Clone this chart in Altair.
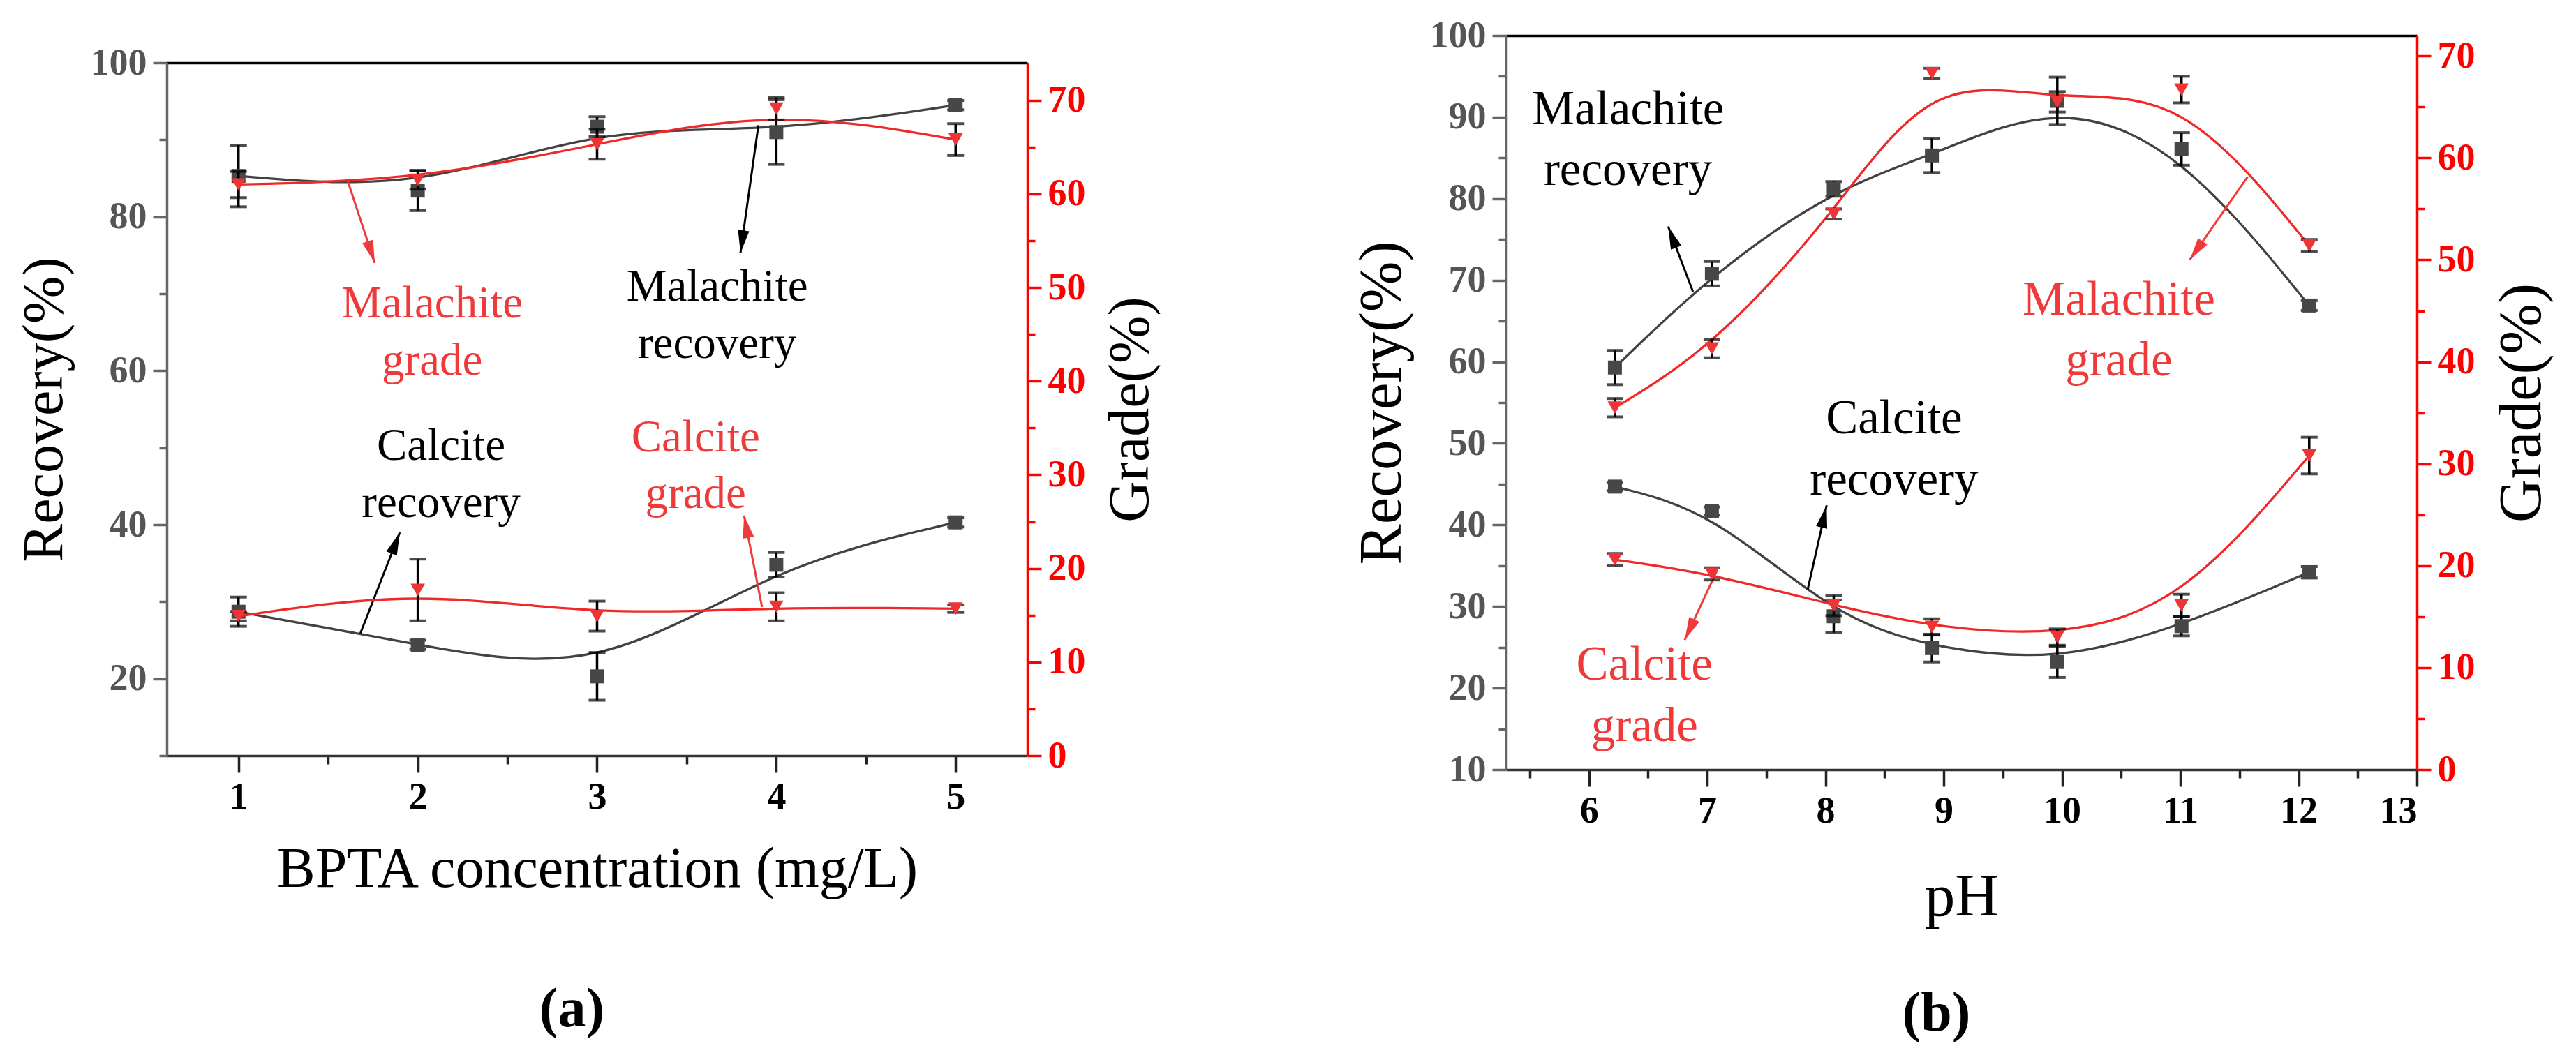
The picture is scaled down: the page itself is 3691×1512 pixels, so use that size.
import math
import pandas as pd
import altair as alt

FONT = "Liberation Serif"
REC_COLOR = "#424242"
GRADE_COLOR = "#f02828"
RED_TEXT = "#ee3a3a"

# ---------------- panel (a): BPTA concentration ----------------
conc = [1, 2, 3, 4, 5]
a_mal_rec = [85.3, 83.4, 91.7, 91.0, 94.5]
a_mal_rec_err = [4.0, 2.6, 1.3, 4.2, 0.6]
a_cal_rec = [28.7, 24.4, 20.3, 34.8, 40.3]
a_cal_rec_err = [1.9, 0.6, 3.1, 1.6, 0.6]
a_mal_grade = [61.0, 61.5, 65.3, 69.1, 65.8]
a_mal_grade_err = [1.4, 1.0, 1.6, 1.2, 1.7]
a_cal_grade = [14.9, 17.7, 14.9, 15.9, 15.7]
a_cal_grade_err = [0.5, 3.3, 1.6, 1.5, 0.4]

a_ann_text = ["Malachite", "grade", "Malachite", "recovery", "Calcite", "recovery", "Calcite", "grade"]
a_ann_kind = ["grade", "grade", "recovery", "recovery", "recovery", "recovery", "grade", "grade"]
a_ann_x = [2.08, 2.08, 3.67, 3.67, 2.13, 2.13, 3.55, 3.55]
a_ann_y = [68.7, 61.3, 70.9, 63.5, 50.2, 42.8, 51.3, 44.0]

a_arr_kind = ["grade", "recovery", "recovery", "grade"]
a_arr_x1 = [1.61, 3.90, 1.68, 3.92]
a_arr_y1 = [84.6, 91.9, 25.9, 29.3]
a_arr_x2 = [1.76, 3.80, 1.90, 3.82]
a_arr_y2 = [74.0, 75.3, 39.0, 41.2]

# ---------------- panel (b): pH ----------------
ph = [6.22, 7.04, 8.07, 8.90, 9.96, 11.01, 12.09]
b_mal_rec = [59.3, 70.8, 81.2, 85.3, 92.0, 86.1, 66.9]
b_mal_rec_err = [2.1, 1.5, 0.9, 2.1, 2.9, 2.0, 0.6]
b_cal_rec = [44.7, 41.7, 28.8, 24.9, 23.2, 27.6, 34.2]
b_cal_rec_err = [0.5, 0.5, 2.0, 1.7, 1.9, 1.2, 0.7]
b_mal_grade = [35.5, 41.3, 54.5, 68.3, 65.5, 66.7, 51.4]
b_mal_grade_err = [0.9, 0.9, 0.5, 0.5, 1.0, 1.3, 0.6]
b_cal_grade = [20.6, 19.2, 16.1, 14.0, 13.0, 16.1, 30.8]
b_cal_grade_err = [0.6, 0.6, 1.0, 0.8, 0.8, 1.1, 1.8]

b_ann_text = ["Malachite", "recovery", "Malachite", "grade", "Calcite", "recovery", "Calcite", "grade"]
b_ann_kind = ["recovery", "recovery", "grade", "grade", "recovery", "recovery", "grade", "grade"]
b_ann_x = [6.33, 6.33, 10.48, 10.48, 8.58, 8.58, 6.47, 6.47]
b_ann_y = [90.9, 83.5, 67.6, 60.1, 53.0, 45.5, 22.8, 15.3]

b_arr_kind = ["recovery", "grade", "recovery", "grade"]
b_arr_x1 = [6.88, 11.57, 7.85, 7.08]
b_arr_y1 = [68.6, 82.7, 32.1, 34.3]
b_arr_x2 = [6.67, 11.08, 8.01, 6.81]
b_arr_y2 = [76.6, 72.5, 42.4, 25.9]


def series(x, vals, errs, name):
    return pd.DataFrame({
        "x": x, "v": vals,
        "lo": [v - e for v, e in zip(vals, errs)],
        "hi": [v + e for v, e in zip(vals, errs)],
        "s": name,
    })


def cond(test, major, minor):
    return {"condition": {"test": test, "value": major}, "value": minor}


KIND_COLOR = alt.Color("kind:N", scale=alt.Scale(domain=["recovery", "grade"],
                                                 range=["black", GRADE_COLOR]), legend=None)
TEXT_COLOR = alt.Color("kind:N", scale=alt.Scale(domain=["recovery", "grade"],
                                                 range=["black", RED_TEXT]), legend=None)
# arrowhead pointing up, tip at the anchor point
ARROW_HEAD = "M0,0L0.5,2L-0.5,2Z"


def build_panel(p):
    xs = alt.Scale(domain=p["xdom"], nice=False, zero=False)
    ls = alt.Scale(domain=p["ldom"], nice=False, zero=False)
    rs = alt.Scale(domain=p["rdom"], nice=False, zero=False)

    common = dict(labelFont=FONT, labelFontSize=54, labelFontWeight="bold",
                  titleFont=FONT, titleFontSize=p["tsize"], titleFontWeight="normal",
                  titleColor="black", grid=False, tickWidth=3.5, domainWidth=3.5)

    x_bottom = alt.Axis(orient="bottom", values=p["xticks"], title=p["xtitle"],
                        labelExpr="datum.value % 1 === 0 ? toString(datum.value) : ''",
                        tickSize=cond("datum.value % 1 === 0", 24, 12),
                        labelColor="black", domainColor="#333333", tickColor="#222222",
                        labelPadding=8, titlePadding=p["xtpad"], **common)
    x_top = alt.Axis(orient="top", labels=False, ticks=False, title=None,
                     domainColor="black", domainWidth=3.5, grid=False)
    y_left = alt.Axis(orient="left", values=p["lticks"], title="Recovery(%)",
                      labelExpr=f"datum.value % {p['lmajor']} === 0 ? datum.label : ''",
                      tickSize=cond(f"datum.value % {p['lmajor']} === 0", 20, 11),
                      labelColor="#555555", domainColor="#666666", tickColor="#666666",
                      labelPadding=9, titlePadding=24, **common)
    y_right = alt.Axis(orient="right", values=p["rticks"], title="Grade(%)",
                       labelExpr="datum.value % 10 === 0 ? datum.label : ''",
                       tickSize=cond("datum.value % 10 === 0", 20, 11),
                       labelColor="#ff0000", domainColor="#ff0000", tickColor="#ff0000",
                       labelPadding=9, titlePadding=24, titleAngle=270,
                       titleBaseline="top", **common)

    def XB(f):
        return alt.X(f, type="quantitative", scale=xs, axis=x_bottom)

    def XT(f):
        return alt.X(f, type="quantitative", scale=xs, axis=x_top)

    def YL(f):
        return alt.Y(f, type="quantitative", scale=ls, axis=y_left)

    def YR(f):
        return alt.Y(f, type="quantitative", scale=rs, axis=y_right)

    rec = pd.concat(p["rec"], ignore_index=True)
    grd = pd.concat(p["grade"], ignore_index=True)
    ann = pd.DataFrame({"x": p["ann_x"], "y": p["ann_y"], "t": p["ann_text"], "kind": p["ann_kind"]})

    # arrowhead rotation from the on-screen direction of each arrow
    kx = p["w"] / (p["xdom"][1] - p["xdom"][0])
    ky = p["h"] / (p["ldom"][1] - p["ldom"][0])
    ang = []
    for x1, y1, x2, y2 in zip(p["ax1"], p["ay1"], p["ax2"], p["ay2"]):
        dx = (x2 - x1) * kx
        dy = -(y2 - y1) * ky
        ang.append((math.degrees(math.atan2(dx, -dy)) + 360) % 360)
    arr = pd.DataFrame({"x1": p["ax1"], "y1": p["ay1"], "x2": p["ax2"], "y2": p["ay2"],
                        "kind": p["akind"], "ang": ang})

    rb = alt.Chart(rec)
    left = alt.layer(
        rb.mark_line(interpolate="basis", color=REC_COLOR, strokeWidth=3.3).encode(
            x=XB("x"), y=YL("v"), detail="s:N"),
        rb.mark_rule(color="black", strokeWidth=3.5).encode(x=XB("x"), y=YL("lo"), y2="hi:Q"),
        rb.transform_fold(["lo", "hi"], as_=["end", "cap"]).mark_tick(
            orient="horizontal", color="black", size=24, thickness=4).encode(
            x=XB("x"), y=YL("cap")),
        rb.mark_point(shape="square", filled=True, size=400, color="#474747", opacity=1).encode(
            x=XB("x"), y=YL("v")),
        alt.Chart(ann).mark_text(font=FONT, fontSize=p["asize"], baseline="middle").encode(
            x=XB("x"), y=YL("y"), text="t:N", color=TEXT_COLOR),
        alt.Chart(arr).mark_rule(strokeWidth=3).encode(
            x=XB("x1"), y=YL("y1"), x2="x2:Q", y2="y2:Q", color=KIND_COLOR),
        alt.Chart(arr).mark_point(shape=ARROW_HEAD, filled=True, size=1050, opacity=1).encode(
            x=XB("x2"), y=YL("y2"), angle=alt.Angle("ang:Q", scale=None), color=KIND_COLOR),
    )

    gb = alt.Chart(grd)
    right = alt.layer(
        gb.mark_line(interpolate="basis", color=GRADE_COLOR, strokeWidth=3.3).encode(
            x=XT("x"), y=YR("v"), detail="s:N"),
        gb.mark_rule(color="black", strokeWidth=3.5).encode(x=XT("x"), y=YR("lo"), y2="hi:Q"),
        gb.transform_fold(["lo", "hi"], as_=["end", "cap"]).mark_tick(
            orient="horizontal", color="black", size=24, thickness=4).encode(
            x=XT("x"), y=YR("cap")),
        gb.mark_point(shape="triangle-down", filled=True, size=430, color="#ee3434", opacity=1).encode(
            x=XT("x"), y=YR("v")),
    )

    return alt.layer(left, right).resolve_scale(y="independent").resolve_axis(
        x="independent", y="independent").properties(
        width=p["w"], height=p["h"],
        title=alt.TitleParams(p["caption"], orient="bottom", font=FONT, fontSize=80,
                              fontWeight="bold", color="black", offset=p["coff"],
                              dx=-36, anchor="middle"),
    )


panel_a = build_panel(dict(
    xdom=[0.6, 5.4], xticks=[1, 1.5, 2, 2.5, 3, 3.5, 4, 4.5, 5],
    ldom=[10, 100], lticks=list(range(10, 101, 10)), lmajor=20,
    rdom=[0, 74], rticks=list(range(0, 71, 5)),
    w=1233, h=993, tsize=82, asize=65, xtpad=36, coff=122,
    xtitle="BPTA concentration (mg/L)", caption="(a)",
    rec=[series(conc, a_mal_rec, a_mal_rec_err, "mal"), series(conc, a_cal_rec, a_cal_rec_err, "cal")],
    grade=[series(conc, a_mal_grade, a_mal_grade_err, "mal"), series(conc, a_cal_grade, a_cal_grade_err, "cal")],
    ann_text=a_ann_text, ann_kind=a_ann_kind, ann_x=a_ann_x, ann_y=a_ann_y,
    akind=a_arr_kind, ax1=a_arr_x1, ay1=a_arr_y1, ax2=a_arr_x2, ay2=a_arr_y2,
))

panel_b = build_panel(dict(
    xdom=[5.3, 13], xticks=[5.5, 6, 6.5, 7, 7.5, 8, 8.5, 9, 9.5, 10, 10.5, 11, 11.5, 12, 12.5, 13],
    ldom=[10, 100], lticks=list(range(10, 101, 5)), lmajor=10,
    rdom=[0, 72], rticks=list(range(0, 71, 5)),
    w=1305, h=1052, tsize=87, asize=69, xtpad=53, coff=86,
    xtitle="pH", caption="(b)",
    rec=[series(ph, b_mal_rec, b_mal_rec_err, "mal"), series(ph, b_cal_rec, b_cal_rec_err, "cal")],
    grade=[series(ph, b_mal_grade, b_mal_grade_err, "mal"), series(ph, b_cal_grade, b_cal_grade_err, "cal")],
    ann_text=b_ann_text, ann_kind=b_ann_kind, ann_x=b_ann_x, ann_y=b_ann_y,
    akind=b_arr_kind, ax1=b_arr_x1, ay1=b_arr_y1, ax2=b_arr_x2, ay2=b_arr_y2,
))

spacer = alt.Chart(pd.DataFrame({"v": [0]})).mark_point(opacity=0).properties(width=10, height=12)

chart = alt.hconcat(
    alt.vconcat(spacer, panel_a, spacing=0),
    panel_b,
    spacing=276,
).properties(
    padding={"left": 14, "top": 16, "right": 5, "bottom": 5},
).configure_view(stroke=None).configure_axis(
    labelFont=FONT, titleFont=FONT
).configure_text(font=FONT)

chart.save("out.html", embed_options={"renderer": "svg", "actions": False})
